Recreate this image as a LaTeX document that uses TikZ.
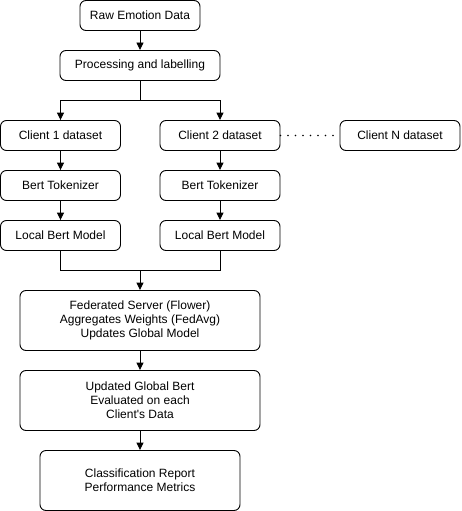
\documentclass[tikz,border=0pt]{standalone}
\usepackage{fontspec}
\setmainfont{Liberation Sans}
\usetikzlibrary{arrows.meta}
\begin{document}
\begin{tikzpicture}[x=1pt,y=-1pt,
  box/.style={draw=black,line width=0.9pt,rounded corners=6pt,fill=white,align=center,inner sep=0pt,font=\fontsize{12}{14}\selectfont},
  conn/.style={line width=0.9pt,draw=black},
  arr/.style={conn,-{Triangle[length=7.5pt,width=7pt]}}]
\useasboundingbox (0,0) rectangle (461,511);
\node[box,minimum width=120pt,minimum height=30pt] (raw) at (140,15.5) {Raw Emotion Data};
\node[box,minimum width=160pt,minimum height=30pt] (proc) at (140,65.5) {Processing and labelling};
\node[box,minimum width=120pt,minimum height=30pt] (c1) at (60.5,135.5) {Client 1 dataset};
\node[box,minimum width=120pt,minimum height=30pt] (c2) at (220,135.5) {Client 2 dataset};
\node[box,minimum width=120pt,minimum height=30pt] (cn) at (400,135.5) {Client N dataset};
\node[box,minimum width=120pt,minimum height=30pt] (t1) at (60.5,185.5) {Bert Tokenizer};
\node[box,minimum width=120pt,minimum height=30pt] (t2) at (220,185.5) {Bert Tokenizer};
\node[box,minimum width=120pt,minimum height=30pt] (m1) at (60.5,235.5) {Local Bert Model};
\node[box,minimum width=120pt,minimum height=30pt] (m2) at (220,235.5) {Local Bert Model};
\node[box,minimum width=240pt,minimum height=60pt] (fed) at (140,320.5) {Federated Server (Flower)\\Aggregates Weights (FedAvg)\\Updates Global Model};
\node[box,minimum width=240pt,minimum height=60pt] (glob) at (140,400.5) {Updated Global Bert\\Evaluated on each\\Client\textquotesingle s Data};
\node[box,minimum width=200pt,minimum height=60pt] (rep) at (140,480.5) {Classification Report\\Performance Metrics};
\coordinate (split) at (140,100);
\coordinate (join) at (140,270);
\draw[arr] (raw) -- (proc);
\draw[conn] (proc) -- (split);
\draw[arr] (split) -| (c1);
\draw[arr] (split) -| (c2);
\draw[conn,line width=1.6pt,line cap=round,dash pattern=on 0pt off 7.5pt] (c2) -- (cn);
\draw[arr] (c1) -- (t1);
\draw[arr] (c2) -- (t2);
\draw[arr] (t1) -- (m1);
\draw[arr] (t2) -- (m2);
\draw[conn] (m1) |- (join);
\draw[conn] (m2) |- (join);
\draw[arr] (join) -- (fed);
\draw[arr] (fed) -- (glob);
\draw[arr] (glob) -- (rep);
\end{tikzpicture}
\end{document}
